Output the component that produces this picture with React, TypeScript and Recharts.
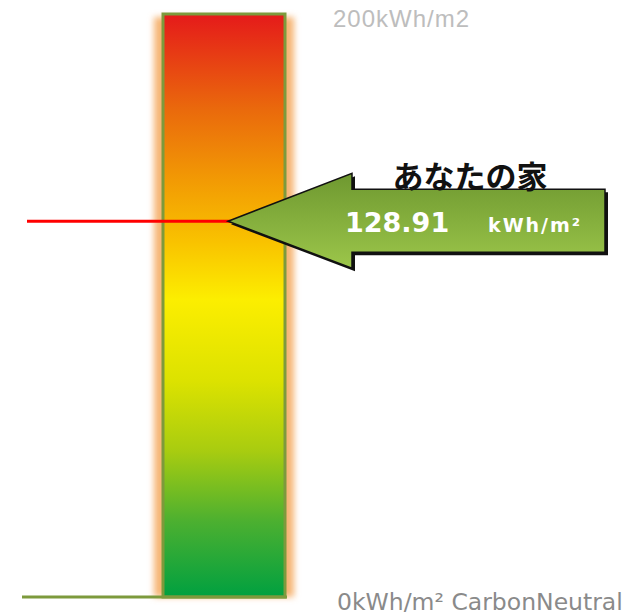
import { Bar, ComposedChart, ReferenceLine, XAxis, YAxis } from 'recharts'

const barNames = ['scale']
const barValues = [200]
const houseLabel = 'あなたの家'
const houseValue = 128.91
const houseUnit = 'kWh/m²'
const axisTicks = [0, 200]
const tickLabels = ['0kWh/m² CarbonNeutral', '200kWh/m2']

const data = barNames.map((name, i) => ({ name, value: barValues[i] }))

const GlowBar = (props: any) => {
  const { x, y, width, height } = props
  return (
    <g>
      <rect x={x - 9} y={y + 3} width={width + 18} height={height - 3} fill="#f6b676" filter="url(#glow)" />
      <rect x={x} y={y} width={width} height={height} fill="url(#heat)" stroke="#7d9a3c" strokeWidth={3} />
    </g>
  )
}

const AxisTick = (props: any) => {
  const { x, y, payload } = props
  const i = axisTicks.indexOf(payload.value)
  const top = payload.value === 200
  return (
    <text
      x={x + (top ? 40 : 44)}
      y={y + (top ? 13 : 13)}
      textAnchor="start"
      fill={top ? '#bdbdbd' : '#8a8a8a'}
      style={{
        fontSize: top ? 24 : 23.5,
        fontFamily: top ? '"Liberation Sans", Arial, sans-serif' : '"DejaVu Sans", sans-serif',
        letterSpacing: top ? 1 : 0,
      }}
    >
      {tickLabels[i]}
    </text>
  )
}

const HouseMarker = (props: any) => {
  const y = props.y1
  const tip = 228
  const head = 352
  const end = 605
  const path = `M${tip},${y} L${head},${y - 48} L${head},${y - 32} L${end},${y - 32} L${end},${y + 31} L${head},${y + 31} L${head},${y + 47} Z`
  return (
    <g>
      <line x1={27} y1={y} x2={tip + 2} y2={y} stroke="#ff0000" strokeWidth={3} />
      <path d={path} transform="translate(3,3)" fill="#111" />
      <path d={path} fill="url(#arrow)" stroke="#111" strokeWidth={1.5} />
      <text x={470} y={y - 33} textAnchor="middle" fontSize={31} fontWeight="bold" fill="#111" fontFamily="Noto Sans CJK JP, sans-serif">
        {houseLabel}
      </text>
      <text x={345} y={y + 11} fontSize={27} fontWeight="bold" fill="#fff" fontFamily="DejaVu Sans, sans-serif">
        {houseValue.toFixed(2)}
      </text>
      <text x={488} y={y + 11} fontSize={19} fontWeight="bold" fill="#fff" letterSpacing={2} fontFamily="DejaVu Sans, sans-serif">
        {houseUnit}
      </text>
    </g>
  )
}

const BaseLine = (props: any) => {
  const y = props.y1
  return <line x1={22} y1={y} x2={287} y2={y} stroke="#7d9a3c" strokeWidth={3} />
}

export default function App() {
  return (
    <div style={{ position: 'absolute', left: 0, top: 0, background: '#fff' }}>
      <ComposedChart width={644} height={615} data={data} margin={{ top: 14, right: 299, bottom: 18, left: 163 }} barCategoryGap={0}>
        <defs>
          <linearGradient id="heat" x1="0" y1="0" x2="0" y2="1">
            <stop offset="0" stopColor="#e51a1a" />
            <stop offset="0.165" stopColor="#ea6a0c" />
            <stop offset="0.285" stopColor="#f29a04" />
            <stop offset="0.39" stopColor="#f9c200" />
            <stop offset="0.49" stopColor="#fcee00" />
            <stop offset="0.63" stopColor="#dce200" />
            <stop offset="0.75" stopColor="#a8cc10" />
            <stop offset="0.87" stopColor="#4cb030" />
            <stop offset="1" stopColor="#00a040" />
          </linearGradient>
          <linearGradient id="arrow" x1="0" y1="0" x2="0" y2="1">
            <stop offset="0" stopColor="#6e9830" />
            <stop offset="1" stopColor="#9cc64a" />
          </linearGradient>
          <filter id="glow" x="-20%" y="-5%" width="140%" height="110%">
            <feGaussianBlur stdDeviation="3" />
          </filter>
        </defs>
        <XAxis dataKey="name" hide />
        <YAxis
          orientation="right"
          domain={[0, 200]}
          ticks={axisTicks}
          width={60}
          axisLine={false}
          tickLine={false}
          tick={<AxisTick />}
        />
        <Bar dataKey="value" shape={<GlowBar />} isAnimationActive={false} />
        <ReferenceLine y={0} shape={<BaseLine />} />
        <ReferenceLine y={houseValue} shape={<HouseMarker />} />
      </ComposedChart>
    </div>
  )
}
